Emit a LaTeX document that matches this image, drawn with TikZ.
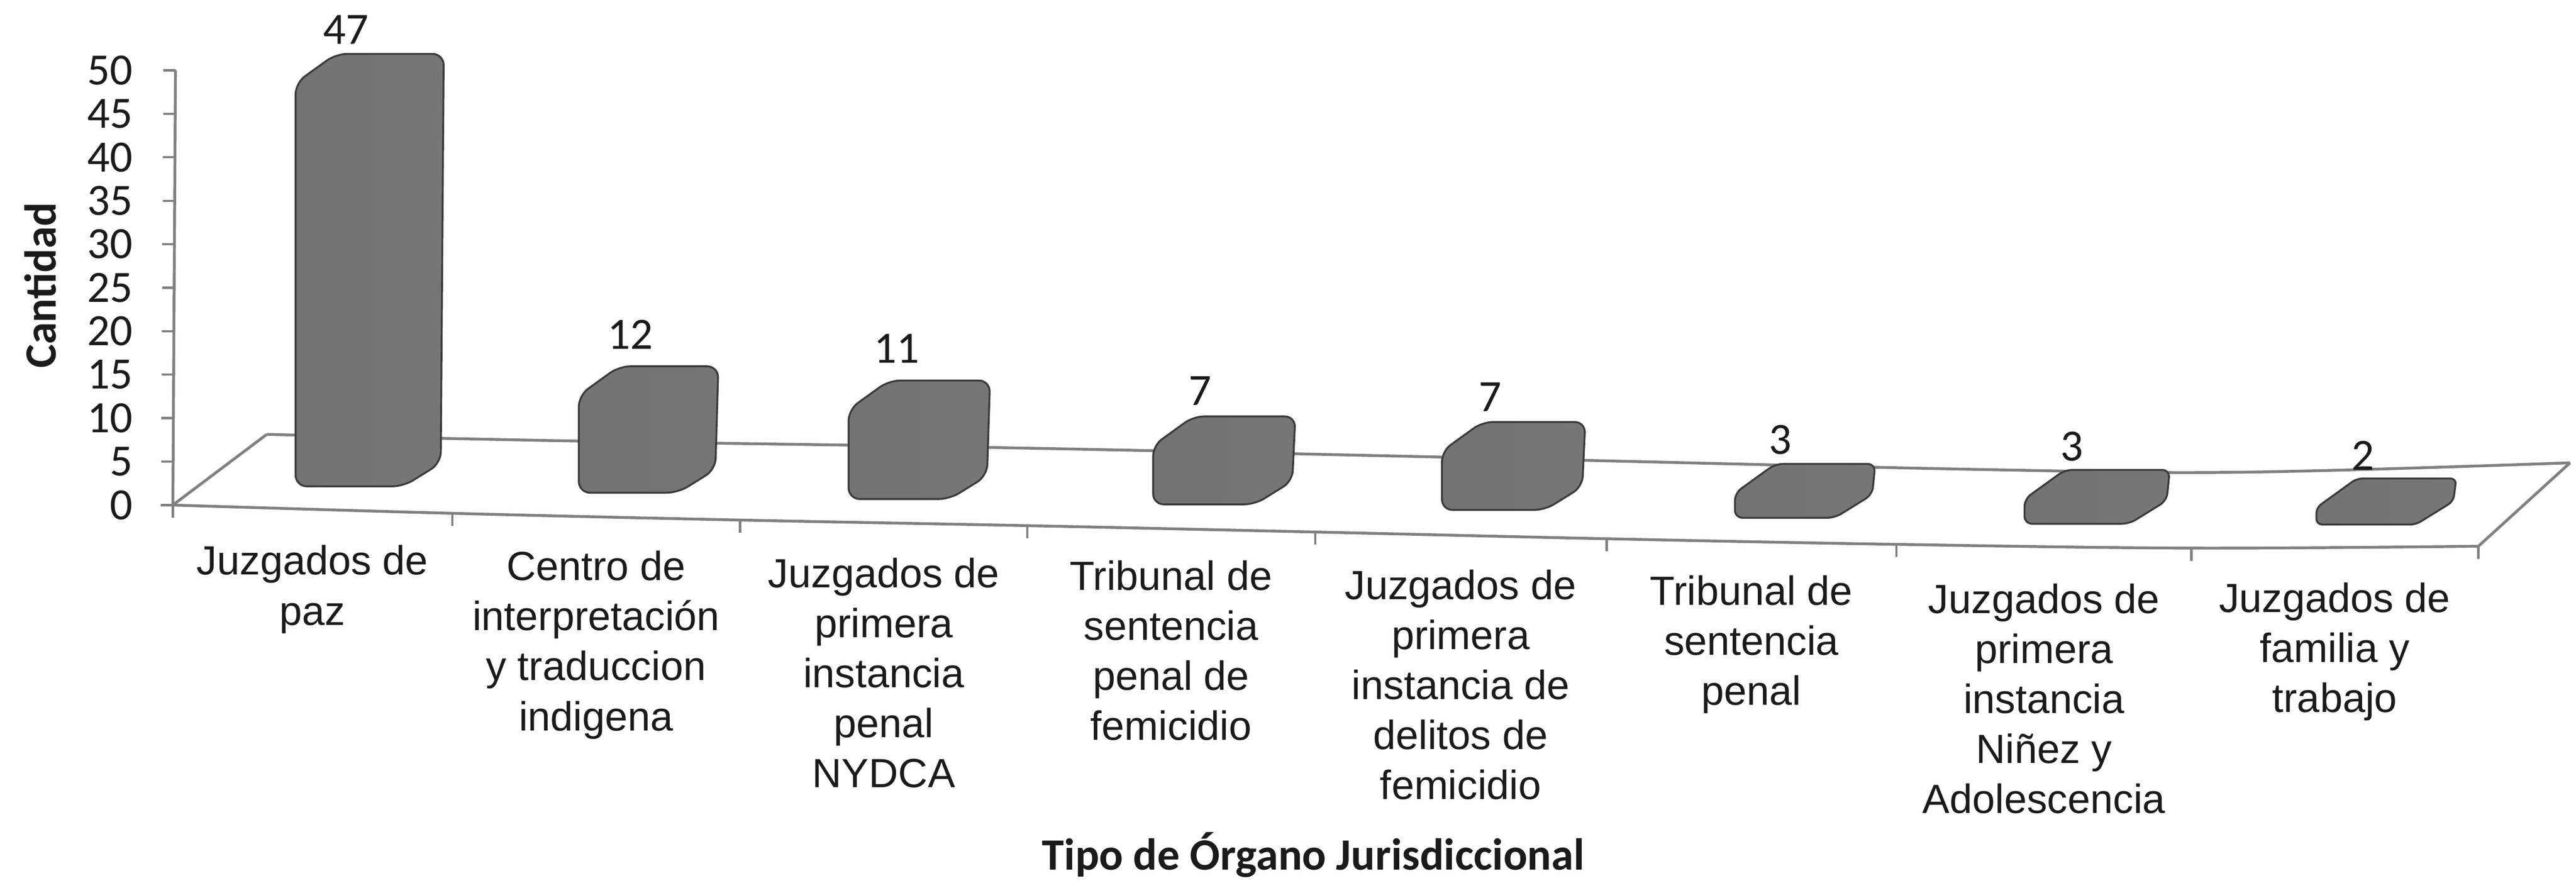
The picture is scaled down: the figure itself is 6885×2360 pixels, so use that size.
\documentclass[tikz,border=0pt]{standalone}
\usepackage{fontspec}
\setmainfont{Liberation Sans}
\newfontfamily\calibri{Carlito}
\definecolor{axisgray}{HTML}{808080}
\definecolor{bardark}{HTML}{3A3A3A}
\definecolor{barA}{HTML}{737373}
\definecolor{barB}{HTML}{969696}
\definecolor{barC}{HTML}{767676}
\definecolor{txt}{HTML}{1A1A1A}
\newcommand{\chartbar}[5]{%
  \draw[barbody, rounded corners=#5] (#1,#2) -- ++(0,-#4) -- ++(108,-78) -- ++(#3,0)
     -- (#1+#3+100,#2-62) -- (#1+#3,#2) -- cycle;}
\begin{document}
\begin{tikzpicture}[x=0.01cm,y=-0.01cm,
  axisline/.style={draw=axisgray, line width=0.075cm},
  tickmark/.style={draw=axisgray, line width=0.06cm},
  barbody/.style={draw=bardark, line width=0.05cm, left color=barA, middle color=barB, right color=barC},
  ylab/.style={anchor=east, inner sep=0pt, text=txt, font=\calibri\fontsize{34}{40}\selectfont},
  vallab/.style={inner sep=0pt, text=txt, font=\calibri\fontsize{34}{40}\selectfont},
  catlab/.style={anchor=north, inner sep=0pt, align=center, text=txt, font=\fontsize{31}{38}\selectfont},
  titlelab/.style={inner sep=0pt, text=txt, font=\calibri\bfseries\fontsize{34}{40}\selectfont}]
\useasboundingbox (0,0) rectangle (6885,2360);
\fill[white] (0,0) rectangle (6885,2360);

% floor corners and front-line tick points
\coordinate (f0) at (462,1350);
\coordinate (f1) at (1209,1372);
\coordinate (f2) at (1978,1390);
\coordinate (f3) at (2746,1405);
\coordinate (f4) at (3515,1422);
\coordinate (f5) at (4294,1440);
\coordinate (f6) at (5069,1455);
\coordinate (f7) at (5857,1465);
\coordinate (f8) at (6624,1460);
\coordinate (b0) at (713,1161);
\coordinate (b6) at (6869,1237);

% floor outline
\draw[axisline] plot[smooth, tension=0.6] coordinates {(462,1350) (1209,1372) (1978,1390) (2746,1405) (3515,1422) (4294,1440) (5069,1455) (5857,1465) (6624,1460)};
\draw[axisline] plot[smooth, tension=0.6] coordinates {(713,1161) (1500,1178) (2700,1197) (4000,1225) (5300,1255) (6000,1262) (6869,1237)};
\draw[axisline] (f0) -- (b0);
\draw[axisline] (f8) -- (b6);

% category ticks
\foreach \k in {0,...,8} { \draw[tickmark] (f\k) -- ++(0,34); }

% vertical axis
\coordinate (ytop) at (469,188);
\draw[axisline] (f0) -- (ytop);
\foreach \v in {0,5,...,50} {
  \draw[tickmark] (462+0.14*\v-32,1350-23.24*\v) -- (462+0.14*\v,1350-23.24*\v);
  \node[ylab] (y\v) at (355,1350-23.24*\v) {\v};
}

% bars
\chartbar{790}{1300}{288}{1078}{0.3cm}
\chartbar{1547}{1317}{265}{260}{0.3cm}
\chartbar{2268}{1334}{270}{239}{0.3cm}
\chartbar{3082}{1348}{272}{157}{0.28cm}
\chartbar{3854}{1363}{275}{157}{0.28cm}
\chartbar{4637}{1384}{267}{66}{0.2cm}
\chartbar{5411}{1400}{280}{66}{0.2cm}
\chartbar{6191}{1402}{266}{45}{0.15cm}

% value labels
\node[vallab] (v1) at (925,79) {47};
\node[vallab] (v2) at (1685,894) {12};
\node[vallab] (v3) at (2396,932) {11};
\node[vallab] (v4) at (3208,1045) {7};
\node[vallab] (v5) at (3983,1061) {7};
\node[vallab] (v6) at (4758,1176) {3};
\node[vallab] (v7) at (5537,1193) {3};
\node[vallab] (v8) at (6316,1218) {2};

% category labels
\node[catlab] (c1) at (835,1457) {Juzgados de\\paz};
\node[catlab] (c2) at (1593,1472) {Centro de\\interpretación\\y traduccion\\indigena};
\node[catlab] (c3) at (2362,1491) {Juzgados de\\primera\\instancia\\penal\\NYDCA};
\node[catlab] (c4) at (3130,1497) {Tribunal de\\sentencia\\penal de\\femicidio};
\node[catlab] (c5) at (3904,1522) {Juzgados de\\primera\\instancia de\\delitos de\\femicidio};
\node[catlab] (c6) at (4681,1538) {Tribunal de\\sentencia\\penal};
\node[catlab] (c7) at (5463,1560) {Juzgados de\\primera\\instancia\\Niñez y\\Adolescencia};
\node[catlab] (c8) at (6240,1557) {Juzgados de\\familia y\\trabajo};

% axis titles
\node[titlelab, rotate=90] (ytitle) at (108,763) {Cantidad};
\node[titlelab] (xtitle) at (3510,2285) {Tipo de Órgano Jurisdiccional};
\end{tikzpicture}
\end{document}
